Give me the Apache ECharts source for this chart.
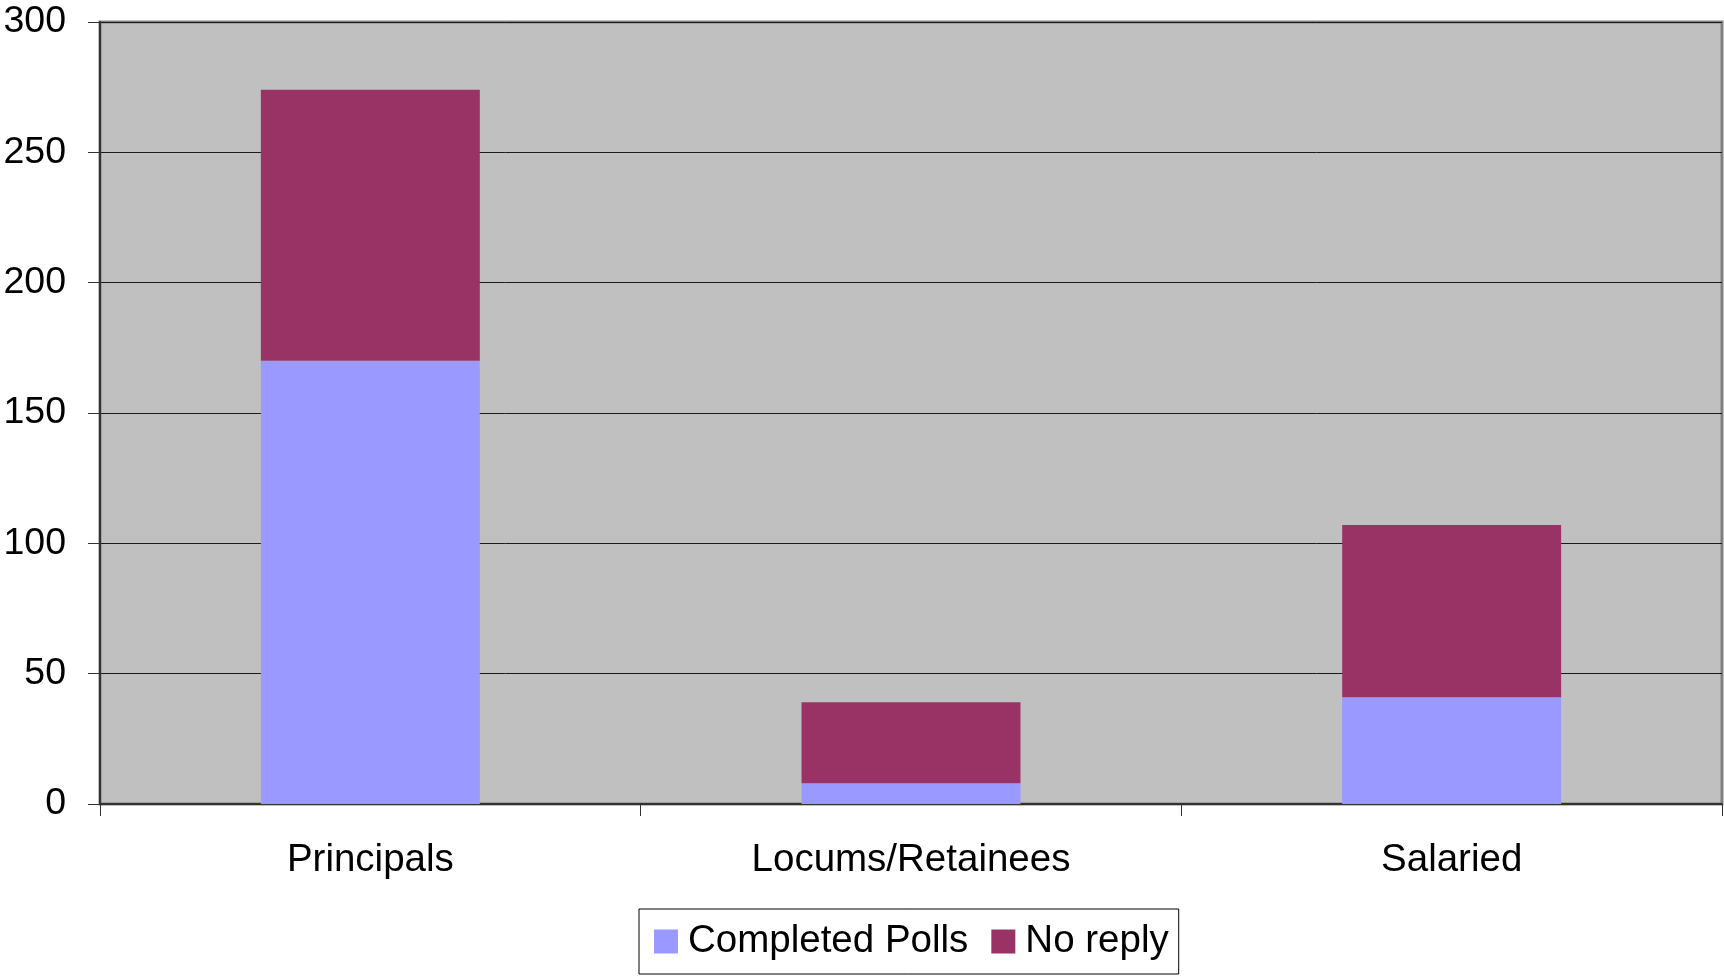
<!DOCTYPE html>
<html>
<head>
<meta charset="utf-8">
<script src="https://cdn.jsdelivr.net/npm/echarts@6/dist/echarts.min.js"></script>
<style>
html,body{margin:0;padding:0;background:#fff;}
#chart{width:1724px;height:979px;}
</style>
</head>
<body>
<div id="chart"></div>
<script>
const categories = ["Principals", "Locums/Retainees", "Salaried"];
const completedPolls = [170, 8, 41];
const noReply = [104, 31, 66];
const seriesNames = ["Completed Polls", "No reply"];
const yTicks = { min: 0, max: 300, interval: 50 };

const FONT = "'Liberation Sans', Arial, sans-serif";
const chart = echarts.init(document.getElementById('chart'));
chart.setOption({
  animation: false,
  backgroundColor: '#ffffff',
  textStyle: { fontFamily: FONT },
  grid: {
    left: 100, right: 2, top: 22, bottom: 175,
    show: true, backgroundColor: '#c0c0c0',
    borderColor: '#808080', borderWidth: 3,
    containLabel: false
  },
  legend: {
    data: seriesNames,
    left: 639, top: 909,
    orient: 'horizontal',
    padding: [13, 10, 13, 15],
    itemWidth: 24, itemHeight: 24, itemGap: 23,
    backgroundColor: '#ffffff',
    borderColor: '#000000', borderWidth: 1, borderRadius: 0,
    icon: 'rect',
    textStyle: { fontSize: 38.5, color: '#000', fontFamily: FONT, padding: [0, 0, 0, 5] }
  },
  xAxis: {
    type: 'category',
    data: categories,
    boundaryGap: true,
    axisLine: { show: true, lineStyle: { color: '#333', width: 2 } },
    axisTick: { show: true, length: 12, alignWithLabel: false, lineStyle: { color: '#333', width: 1 } },
    axisLabel: { fontSize: 38.5, color: '#000', margin: 37, fontFamily: FONT },
    splitLine: { show: false }
  },
  yAxis: {
    type: 'value',
    min: yTicks.min, max: yTicks.max, interval: yTicks.interval,
    axisLine: { show: true, lineStyle: { color: '#333', width: 2 } },
    axisTick: { show: true, length: 12, lineStyle: { color: '#333', width: 1 } },
    axisLabel: { fontSize: 37.5, color: '#000', margin: 34, fontFamily: FONT },
    splitLine: { show: true, lineStyle: { color: '#1a1a1a', width: 1 } }
  },
  series: [
    {
      name: seriesNames[0], type: 'bar', stack: 'total',
      data: completedPolls, barWidth: '40.5%',
      itemStyle: { color: '#9999ff' }
    },
    {
      name: seriesNames[1], type: 'bar', stack: 'total',
      data: noReply, barWidth: '40.5%',
      itemStyle: { color: '#993366' }
    }
  ]
});
</script>
</body>
</html>
